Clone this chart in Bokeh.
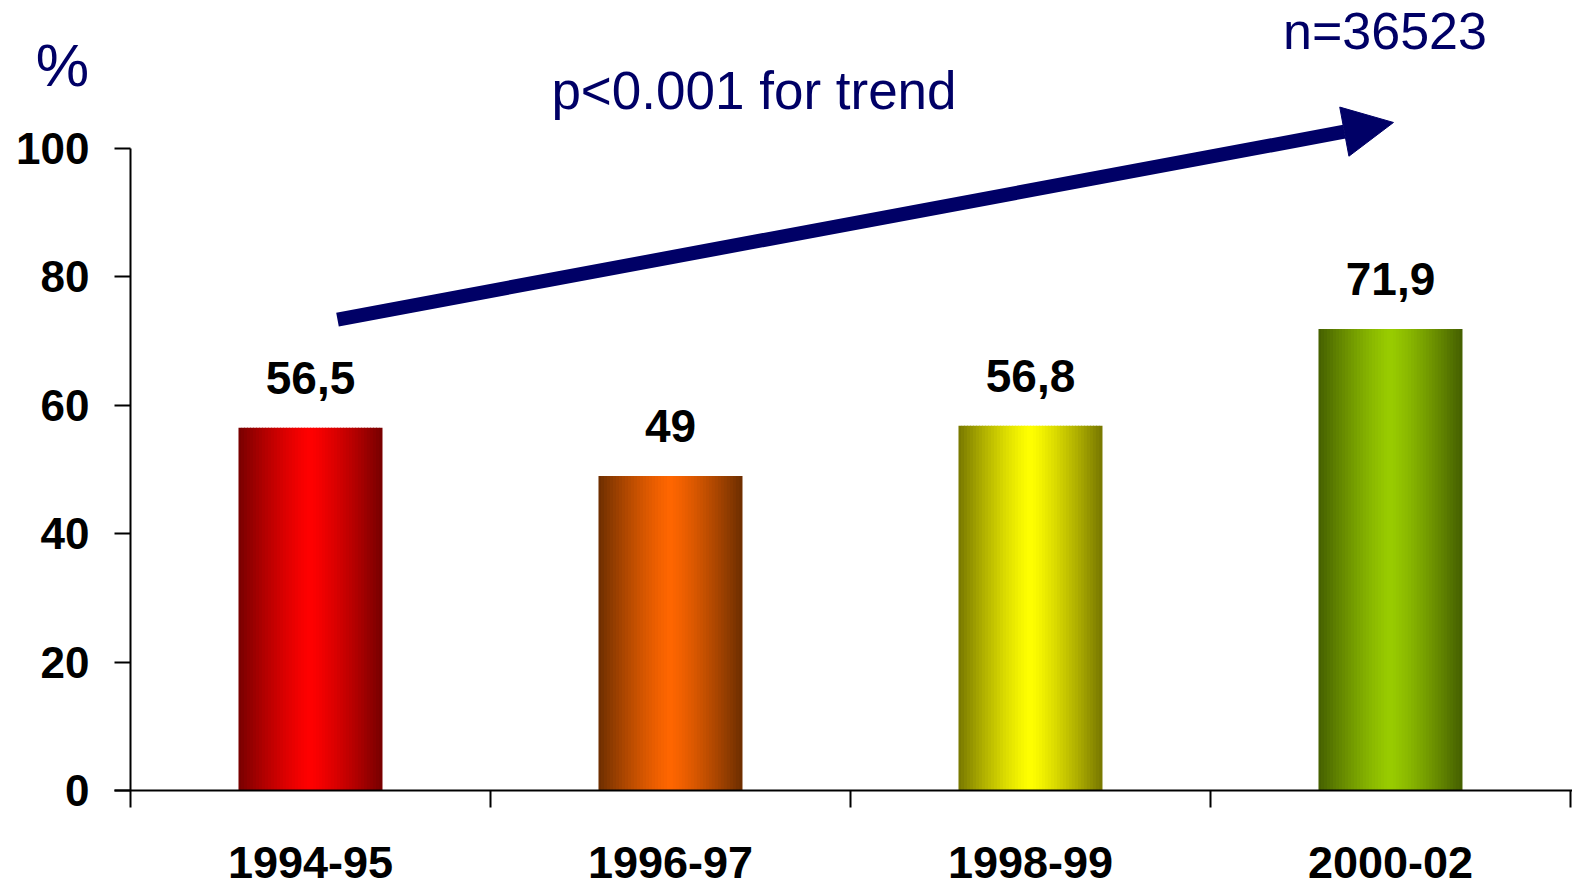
from bokeh.plotting import figure
from bokeh.models import Range1d, FixedTicker, Label, Arrow, NormalHead, ColumnDataSource, LinearAxis
from bokeh.core.properties import value
from bokeh.embed import file_html
from bokeh.resources import INLINE

# ---- data ----
categories = ["1994-95", "1996-97", "1998-99", "2000-02"]
values = [56.5, 49, 56.8, 71.9]
y_ticks = [0, 20, 40, 60, 80, 100]
n_text = "n=36523"
p_text = "p<0.001 for trend"
unit_text = "%"

# ---- style ----
center_colors = [(255, 0, 0), (255, 102, 0), (255, 255, 0), (153, 204, 0)]
edge_colors = [(118, 0, 0), (108, 46, 0), (118, 118, 0), (68, 94, 0)]
navy = "#000066"
FONT = "Liberation Sans"
BAR_W = 0.4
N_STRIPS = 48

p = figure(width=1572, height=889, output_backend="svg", toolbar_location=None,
           x_range=Range1d(-0.3611, 4.0056), y_range=Range1d(-15.42, 123.05),
           x_axis_location=None, y_axis_location=None,
           min_border_left=0, min_border_right=0, min_border_top=0, min_border_bottom=0)
p.outline_line_color = None
p.xgrid.visible = False
p.ygrid.visible = False
p.background_fill_color = "white"

# gradient bars built from narrow strips
xs, tops, widths, cols = [], [], [], []
sw = BAR_W / N_STRIPS
for i, (cat, v) in enumerate(zip(categories, values)):
    c0 = center_colors[i]
    c1 = edge_colors[i]
    for k in range(N_STRIPS):
        off = -BAR_W / 2 + (k + 0.5) * sw
        t = min(1.0, abs(off) / (BAR_W / 2))
        t = t ** 1.25
        col = tuple(int(round(c0[j] * (1 - t) + c1[j] * t)) for j in range(3))
        xs.append(i + 0.5 + off)
        tops.append(v)
        w = sw * 1.35
        if k == 0 or k == N_STRIPS - 1:
            w = sw
        widths.append(w)
        cols.append("#%02x%02x%02x" % col)
src = ColumnDataSource(dict(x=xs, top=tops, w=widths, c=cols))
p.vbar(x="x", top="top", bottom=0, width="w", source=src, fill_color="c", line_color=None)

# value labels
lab_src = ColumnDataSource(dict(
    x=[i + 0.5 for i in range(len(categories))],
    y=values,
    t=[f"{v:g}".replace(".", ",") for v in values]))
p.text(x="x", y="y", text="t", source=lab_src, text_align="center", text_baseline="alphabetic",
       y_offset=-50, text_font=value(FONT), text_font_style="bold", text_font_size="46px",
       text_color="black")

# axes (fixed inside the frame)
xa = LinearAxis(fixed_location=0)
xa.ticker = FixedTicker(ticks=[i + 0.5 for i in range(len(categories))],
                        minor_ticks=list(range(len(categories) + 1)))
xa.bounds = (-0.0444, 4.0056)
xa.major_label_overrides = {i + 0.5: c for i, c in enumerate(categories)}
xa.major_tick_out = 0
xa.major_tick_in = 0
xa.minor_tick_out = 17
xa.minor_tick_in = 0
xa.minor_tick_line_color = "black"
xa.minor_tick_line_width = 2
xa.axis_line_width = 2
xa.axis_line_color = "black"
xa.major_label_standoff = 39
xa.major_label_text_font = FONT
xa.major_label_text_font_style = "bold"
xa.major_label_text_font_size = "45px"
xa.major_label_text_color = "black"
p.add_layout(xa, "below")

ya = LinearAxis(fixed_location=0)
ya.ticker = FixedTicker(ticks=y_ticks, minor_ticks=[])
ya.bounds = (0, 100)
ya.major_tick_out = 16
ya.major_tick_in = 0
ya.major_tick_line_width = 2
ya.major_tick_line_color = "black"
ya.axis_line_width = 2
ya.axis_line_color = "black"
ya.major_label_standoff = 25
ya.major_label_text_font = FONT
ya.major_label_text_font_style = "bold"
ya.major_label_text_font_size = "44px"
ya.major_label_text_color = "black"
p.add_layout(ya, "left")

# annotations
p.add_layout(Label(x=-0.1889, y=112.93, text=unit_text, text_align="center", text_baseline="middle",
                   text_font=FONT, text_font_size="60px", text_color=navy))
p.add_layout(Label(x=1.7319, y=109.03, text=p_text, text_align="center", text_baseline="alphabetic",
                   text_font=FONT, text_font_size="53px", text_color=navy))
p.add_layout(Label(x=3.4847, y=118.3, text=n_text, text_align="center", text_baseline="alphabetic",
                   text_font=FONT, text_font_size="52px", text_color=navy))
p.add_layout(Arrow(x_start=0.575, y_start=73.36, x_end=3.5083, y_end=104.05,
                   line_color=navy, line_width=14,
                   end=NormalHead(size=50, fill_color=navy, line_color=navy, line_width=1)))

open("out.html", "w").write(file_html(p, INLINE))
